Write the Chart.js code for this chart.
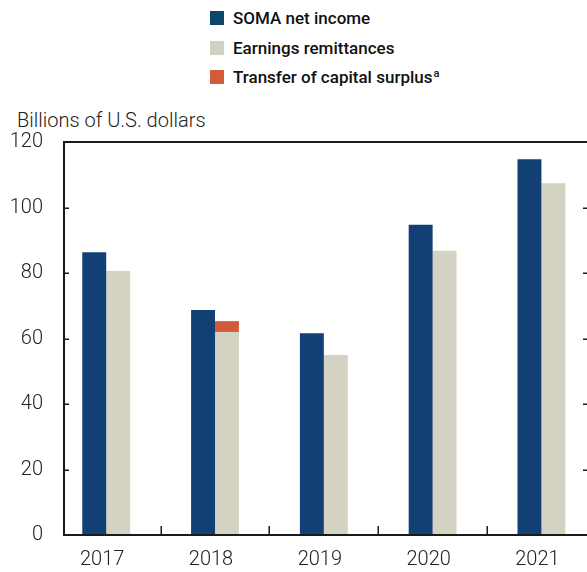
<!DOCTYPE html>
<html>
<head>
<meta charset="utf-8">
<script src="https://cdn.jsdelivr.net/npm/chart.js@4"></script>
<style>
  html, body { margin: 0; padding: 0; background: #fff; overflow: hidden; }
  #wrap { position: relative; width: 587px; height: 572px; overflow: hidden; }
  #grafico { position: absolute; left: 0; top: 0; }
  .leg { position: absolute; left: 210px; height: 29px; display: flex; align-items: center;
         font-family: 'Roboto', sans-serif; font-weight: 500; font-size: 17px; color: #111; white-space: nowrap; }
  .leg span.box { display: inline-block; width: 14px; height: 14px; margin-right: 9px; }
  .leg sup { font-size: 11px; position: relative; top: -6px; vertical-align: baseline; margin-left: 1px; }
  #titulo { position: absolute; left: 17px; top: 108px; font-family: 'Roboto', sans-serif; font-weight: 300;
            font-size: 20px; line-height: 24px; color: #222; white-space: nowrap; }
</style>
</head>
<body>
<div id="wrap">
  <div class="leg" style="top:3px"><span class="box" style="background:#0c4669"></span><span>SOMA net income</span></div>
  <div class="leg" style="top:33px"><span class="box" style="background:#d3d1c2"></span><span>Earnings remittances</span></div>
  <div class="leg" style="top:62px"><span class="box" style="background:#d25b39"></span><span>Transfer of capital surplus<sup>a</sup></span></div>
  <div id="titulo">Billions of U.S. dollars</div>
  <canvas id="grafico" width="600" height="572"></canvas>
</div>
<script>
// Dados (bilhões de US$)
const anos = [2017, 2018, 2019, 2020, 2021];
const somaLiquido = [86.3, 68.7, 61.6, 94.7, 114.7];
const remessas = [80.6, 62.0, 55.0, 86.8, 107.4];
const transferencia = [null, 3.3, null, null, null];
const ticksY = [0, 20, 40, 60, 80, 100, 120];

const corSoma = '#123f74';
const corRemessa = '#d4d2c3';
const corTransf = '#d25b39';
const corLinha = '#1a1a1a';

// Divisões entre os anos (marcas no eixo x)
const divisoes = anos.slice(1).map(a => a - 0.5);

// Desenha a moldura e as marcas internas dos eixos
const moldura = {
  id: 'moldura',
  afterDatasetsDraw(chart) {
    const { ctx, chartArea: a, scales: { x, y } } = chart;
    ctx.save();
    ctx.strokeStyle = corLinha;
    ctx.lineWidth = 2;
    ctx.beginPath();
    ctx.moveTo(a.left, a.top);
    ctx.lineTo(a.right, a.top);
    ctx.moveTo(a.left, a.top - 1);
    ctx.lineTo(a.left, a.bottom);
    ctx.lineTo(a.right, a.bottom);
    ctx.moveTo(a.right, a.top - 1);
    ctx.lineTo(a.right, a.bottom);
    ctx.stroke();

    ctx.lineWidth = 1.5;
    ctx.beginPath();
    ticksY.slice(1, -1).forEach(v => {
      const py = Math.round(y.getPixelForValue(v)) + 0.25;
      ctx.moveTo(a.left, py);
      ctx.lineTo(a.left + 5, py);
      ctx.moveTo(a.right, py);
      ctx.lineTo(a.right - 5, py);
    });
    divisoes.forEach(v => {
      const px = Math.round(x.getPixelForValue(v)) + 0.25;
      ctx.moveTo(px, a.bottom);
      ctx.lineTo(px, a.bottom - 9);
    });
    ctx.stroke();
    ctx.restore();
  }
};

const fonteEixo = { family: 'Roboto', size: 20, weight: '300' };

new Chart(document.getElementById('grafico'), {
  type: 'bar',
  data: {
    datasets: [
      {
        label: 'SOMA net income',
        data: anos.map((a, i) => ({ x: a, y: somaLiquido[i] })),
        backgroundColor: corSoma,
        stack: 'soma'
      },
      {
        label: 'Earnings remittances',
        data: anos.map((a, i) => ({ x: a, y: remessas[i] })),
        backgroundColor: corRemessa,
        stack: 'remessa'
      },
      {
        label: 'Transfer of capital surplus',
        data: anos.map((a, i) => ({ x: a, y: transferencia[i] })),
        backgroundColor: corTransf,
        stack: 'remessa'
      }
    ]
  },
  options: {
    responsive: false,
    animation: false,
    layout: { padding: { top: 142, left: 0, right: 12, bottom: 0 } },
    datasets: {
      bar: { categoryPercentage: 0.44, barPercentage: 1.0, borderWidth: 0 }
    },
    scales: {
      x: {
        type: 'linear',
        offset: false,
        min: 2016.612,
        max: 2021.428,
        grid: { display: false, drawTicks: false },
        border: { display: false },
        afterBuildTicks: (scale) => { scale.ticks = anos.map(v => ({ value: v })); },
        afterFit: (scale) => { scale.height = 37; },
        ticks: {
          font: fonteEixo,
          color: '#222',
          padding: 13,
          labelOffset: -4,
          maxRotation: 0,
          autoSkip: false,
          callback: (v) => String(v)
        }
      },
      y: {
        min: 0,
        max: 120,
        stacked: true,
        grid: { display: false, drawTicks: false },
        border: { display: false },
        afterBuildTicks: (scale) => { scale.ticks = ticksY.map(v => ({ value: v })); },
        afterFit: (scale) => { scale.width = 64; },
        ticks: {
          font: fonteEixo,
          color: '#222',
          padding: 21
        }
      }
    },
    plugins: {
      legend: { display: false },
      tooltip: { enabled: false },
      title: { display: false }
    }
  },
  plugins: [moldura]
});
</script>
</body>
</html>
